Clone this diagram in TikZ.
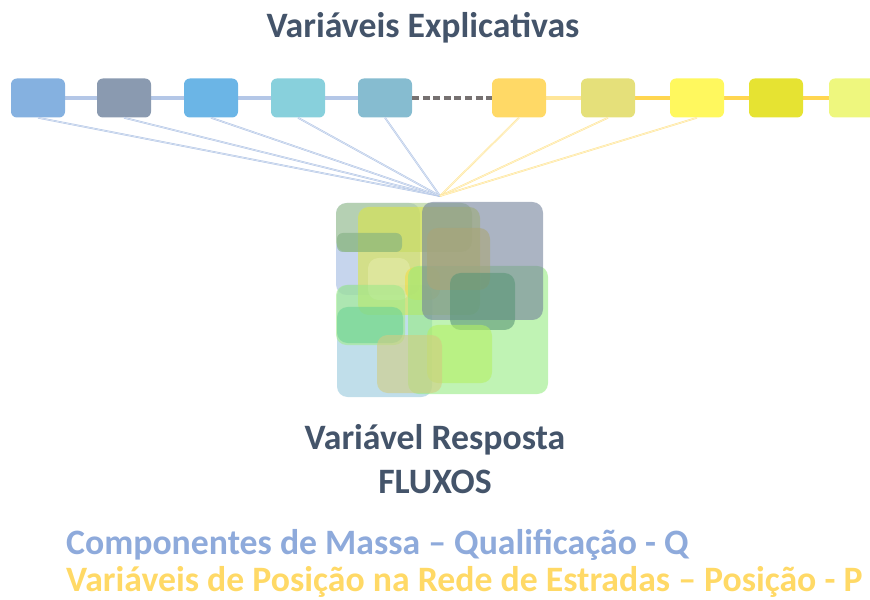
\documentclass[tikz,border=0pt]{standalone}
\usepackage{fontspec}
\setmainfont{Carlito}
\usepackage{tikz}
\usetikzlibrary{backgrounds}
\usepackage{xcolor}
\definecolor{titlegrey}{RGB}{68,84,106}
\definecolor{massblue}{RGB}{142,170,219}
\definecolor{posgold}{RGB}{255,217,102}
\definecolor{linkblue}{RGB}{180,199,231}
\definecolor{linkgold}{RGB}{255,230,153}
\definecolor{darkgold}{RGB}{255,214,80}
\definecolor{dashgrey}{RGB}{118,113,113}

\begin{document}
\begin{tikzpicture}[x=0.03cm, y=-0.03cm,
    varbox/.style={rounded corners=5pt, minimum width=54*0.03cm, minimum height=39*0.03cm, inner sep=0pt},
    fanblue/.style={draw=linkblue, line width=0.5pt, double=linkblue!40, double distance=0.5pt},
    fangold/.style={draw=linkgold, line width=0.5pt, double=linkgold!40, double distance=0.5pt},
    blob/.style={rounded corners=9pt, fill opacity=0.6},
    label/.style={font=\bfseries\fontsize{30.5}{34}\selectfont, text=titlegrey}]
            \useasboundingbox (0,0) rectangle (870,600);

            % --- Titre ---
            \node[label] (titulo) at (423,28) {Variáveis Explicativas};

            % --- Variables explicatives (Q puis P) ---
            \node[varbox, fill={rgb,255:red,133;green,177;blue,224}] (b1) at (38,98) {};
            \node[varbox, fill={rgb,255:red,138;green,154;blue,176}] (b2) at (124,98) {};
            \node[varbox, fill={rgb,255:red,107;green,181;blue,230}] (b3) at (211,98) {};
            \node[varbox, fill={rgb,255:red,136;green,208;blue,220}] (b4) at (298,98) {};
            \node[varbox, fill={rgb,255:red,134;green,188;blue,208}] (b5) at (385,98) {};
            \node[varbox, fill={rgb,255:red,255;green,217;blue,102}] (b6) at (519,98) {};
            \node[varbox, fill={rgb,255:red,229;green,224;blue,122}] (b7) at (608,98) {};
            \node[varbox, fill={rgb,255:red,255;green,248;blue,94}] (b8) at (697,98) {};
            \node[varbox, fill={rgb,255:red,230;green,227;blue,50}] (b9) at (776,98) {};
            \node[varbox, fill={rgb,255:red,238;green,247;blue,126}] (b10) at (856,98) {};

            % Lignes qui relient les boites
            \begin{scope}[on background layer]
                \draw[linkblue, line width=3pt] (b1.center) -- (b5.center);
                \draw[linkgold, line width=3pt] (b6.center) -- (b7.center);
                \draw[darkgold, line width=3pt] (b7.center) -- (b10.center);
            \end{scope}
            \draw[dashgrey, line width=3pt, dash pattern=on 6pt off 3pt] (b5.east) -- (b6.west);

            % --- Faisceau vers la variable reponse ---
            \coordinate (apex) at (440,196);
            \draw[fanblue] (b1.south) -- (apex);
            \draw[fanblue] (b2.south) -- (apex);
            \draw[fanblue] (b3.south) -- (apex);
            \draw[fanblue] (b4.south) -- (apex);
            \draw[fanblue] (b5.south) -- (apex);
            \draw[fangold] (b6.south) -- (apex);
            \draw[fangold] (b7.south) -- (apex);
            \draw[fangold] (b8.south) -- (apex);

            % --- Variable reponse (melange de blocs) ---
            \fill[blob, fill={rgb,255:red,150;green,200;blue,220}] (337,285) rectangle (432,397);
            \fill[blob, fill={rgb,255:red,160;green,185;blue,225}] (336,203) rectangle (420,295);
            \fill[blob, fill={rgb,255:red,170;green,205;blue,140}] (336,203) rectangle (472,252);
            \fill[blob, fill={rgb,255:red,220;green,230;blue,70}] (358,207) rectangle (480,315);
            \fill[blob, rounded corners=5pt, fill={rgb,255:red,130;green,175;blue,130}] (337,233) rectangle (402,252);
            \fill[blob, fill={rgb,255:red,230;green,235;blue,170}] (368,258) rectangle (410,300);
            \fill[blob, fill={rgb,255:red,240;green,220;blue,70}] (405,267) rectangle (440,300);
            \fill[blob, fill={rgb,255:red,150;green,235;blue,130}] (408,266) rectangle (548,394);
            \fill[blob, fill={rgb,255:red,115;green,130;blue,155}] (422,202) rectangle (543,320);
            \fill[blob, fill={rgb,255:red,170;green,165;blue,120}] (427,228) rectangle (490,290);
            \fill[blob, fill={rgb,255:red,160;green,235;blue,140}] (336,285) rectangle (405,345);
            \fill[blob, fill={rgb,255:red,110;green,210;blue,150}] (337,307) rectangle (403,343);
            \fill[blob, fill={rgb,255:red,90;green,150;blue,120}] (450,273) rectangle (515,330);
            \fill[blob, fill={rgb,255:red,180;green,240;blue,100}] (427,325) rectangle (492,383);
            \fill[blob, fill={rgb,255:red,210;green,205;blue,130}] (377,335) rectangle (442,393);

            % --- Textes ---
            \node[label] (resposta) at (435,440) {Variável Resposta};
            \node[label] (fluxos) at (435,482) {FLUXOS};
            \node[label, text=massblue, anchor=west] (massa) at (62,545) {Componentes de Massa – Qualificação - Q};
            \node[label, text=posgold, anchor=west] (posicao) at (62,582) {Variáveis de Posição na Rede de Estradas – Posição - P};
        \end{tikzpicture}
\end{document}
